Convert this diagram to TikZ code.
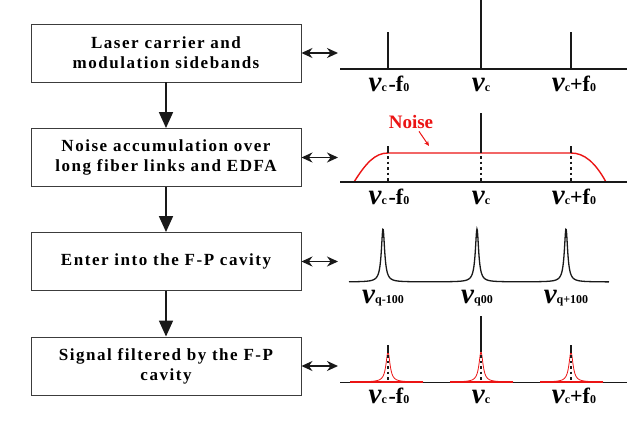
\documentclass[tikz,border=0pt]{standalone}
\usepackage{fontspec}
\setmainfont{Liberation Serif}
\usetikzlibrary{arrows.meta}
\definecolor{nred}{RGB}{235,20,20}
\definecolor{boxline}{RGB}{60,60,60}
\newcommand\gnu{{\fontsize{29}{29}\selectfont\bfseries\itshape ν}}
\newcommand\smsub[1]{{\fontsize{12}{12}\selectfont\bfseries #1}}
\newcommand\bigf[1]{{\fontsize{22}{22}\selectfont\bfseries #1}}
\newcommand\lblm{\gnu\smsub{c}\,\bigf{-f}\smsub{0}}
\newcommand\lblc{\gnu\smsub{c}}
\newcommand\lblp{\gnu\smsub{c}\bigf{+f}\smsub{0}}
\tikzset{
  stepbox/.style={draw=boxline, line width=0.9pt, minimum width=270pt, minimum height=58pt,
    align=center, inner sep=0pt,
    font=\fontsize{17}{20}\selectfont\bfseries\addfontfeature{LetterSpace=9}},
  flow/.style={line width=1.7pt, draw=black!90, -{Triangle[width=14pt,length=16pt]}},
  link/.style={line width=1.5pt, draw=black!90, {Stealth[length=11pt,width=10pt]}-{Stealth[length=11pt,width=10pt]}},
  axis/.style={line width=1.4pt, draw=black!90},
  spike/.style={line width=1.1pt, draw=black!90},
  dotln/.style={line width=1.3pt, draw=black!90, dash pattern=on 2.5pt off 3pt},
  lbl/.style={inner sep=0pt, anchor=base},
}
\begin{document}
\begin{tikzpicture}[x=1pt,y=-1pt]
\useasboundingbox (0,0) rectangle (640,437);
% boxes
\node[stepbox] (b1) at (166,53) {Laser carrier and\\modulation sidebands};
\node[stepbox] (b2) at (166,157.5) {Noise accumulation over\\long fiber links and EDFA};
\node[stepbox] (b3) at (166,261.5) {Enter into the F-P cavity};
\node[stepbox] (b4) at (166,366) {Signal filtered by the F-P\\cavity};
\draw[flow] (b1) -- (b2);
\draw[flow] (b2) -- (b3);
\draw[flow] (b3) -- (b4);
% link arrows
\coordinate (r1) at (338,53);
\coordinate (r2) at (338,157.5);
\coordinate (r3) at (338,261.5);
\coordinate (r4) at (338,366);
\draw[link] (b1.east) -- (r1);
\draw[link] (b2.east) -- (r2);
\draw[link] (b3.east) -- (r3);
\draw[link] (b4.east) -- (r4);
% panel 1
\draw[axis] (340,69) -- (627,69);
\draw[spike] (388,32) -- (388,69);
\draw[spike] (481,0) -- (481,69);
\draw[spike] (571,32) -- (571,69);
\node[lbl] (l1a) at (389,91) {\lblm};
\node[lbl] (l1b) at (481,91) {\lblc};
\node[lbl] (l1c) at (574,91) {\lblp};
% panel 2
\draw[line width=1.4pt, nred] (354,182) .. controls (366,163) and (375,153) .. (388,153) -- (571,153) .. controls (584,153) and (595,162) .. (606,182);
\draw[axis] (340,182) -- (627,182);
\draw[spike] (388,146) -- (388,153);
\draw[spike] (481,113) -- (481,153);
\draw[spike] (571,146) -- (571,153);
\draw[dotln] (388,156) -- (388,182);
\draw[dotln] (481,156) -- (481,182);
\draw[dotln] (571,156) -- (571,182);
\node[lbl, text=nred, font=\fontsize{19}{19}\selectfont\bfseries] (noise) at (411,128) {Noise};
\coordinate (na) at (429,146);
\draw[nred, line width=1pt, -{Stealth[length=5pt,width=4.5pt]}] (noise.south) ++(8,3) -- (na);
\node[lbl] (l2a) at (389,204) {\lblm};
\node[lbl] (l2b) at (481,204) {\lblc};
\node[lbl] (l2c) at (574,204) {\lblp};
% panel 3
\draw[line width=1.3pt, black!90] plot[domain=349:609, samples=700, smooth]
  (\x, {282 - 53*(0.04/(((\x-383)/10)^2+0.04) + 0.04/(((\x-477)/10)^2+0.04) + 0.04/(((\x-566)/10)^2+0.04))});
\node[lbl] (l3a) at (383,303) {\gnu\smsub{q-100}};
\node[lbl] (l3b) at (477,303) {\gnu\smsub{q00}};
\node[lbl] (l3c) at (566,303) {\gnu\smsub{q+100}};
% panel 4
\foreach \c/\l/\r in {388/350/423, 481/450/513, 571/540/603}{
  \draw[nred, line width=0.8pt] plot[domain=\l:\r, samples=300, smooth]
    (\x, {382 - 30*(0.06/(((\x-\c)/10)^2+0.06))});
}
\draw[axis] (340,382.6) -- (350,382.6) (423,382.6) -- (450,382.6) (513,382.6) -- (540,382.6) (603,382.6) -- (627,382.6);
\draw[nred, line width=1.2pt] (350,382) -- (423,382) (450,382) -- (513,382) (540,382) -- (603,382);
\draw[spike, line width=1.3pt] (388,345) -- (388,353);
\draw[spike, line width=1.3pt] (481,316) -- (481,352);
\draw[spike, line width=1.3pt] (571,345) -- (571,353);
\draw[dotln, line width=1.1pt] (388,355) -- (388,382);
\draw[dotln, line width=1.1pt] (481,355) -- (481,382);
\draw[dotln, line width=1.1pt] (571,355) -- (571,382);
\node[lbl] (l4a) at (389,403) {\lblm};
\node[lbl] (l4b) at (481,403) {\lblc};
\node[lbl] (l4c) at (574,403) {\lblp};
\end{tikzpicture}
\end{document}
